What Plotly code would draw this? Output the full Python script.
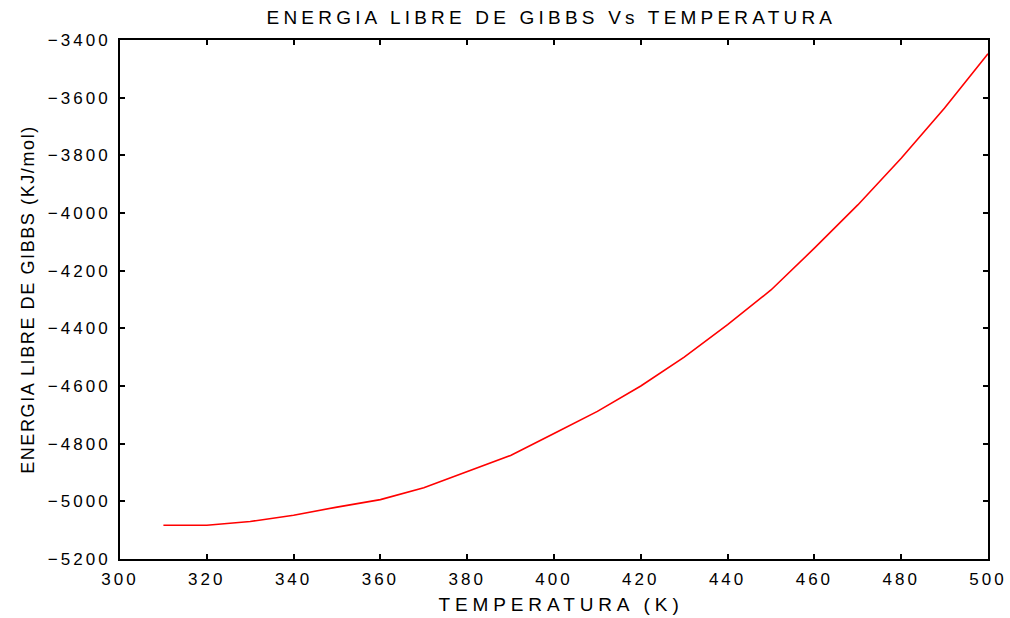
import plotly.graph_objects as go

temperatura = [310, 320, 330, 340, 350, 360, 370, 380, 390, 400,
               410, 420, 430, 440, 450, 460, 470, 480, 490, 500]
energia_gibbs = [-5083, -5083, -5070, -5048, -5020, -4994, -4953, -4897, -4841, -4765,
                 -4688, -4600, -4500, -4387, -4267, -4122, -3972, -3810, -3636, -3448]

x_ticks = [300, 320, 340, 360, 380, 400, 420, 440, 460, 480, 500]
y_ticks = [-5200, -5000, -4800, -4600, -4400, -4200, -4000, -3800, -3600, -3400]

FONT = "Liberation Sans, Arial, sans-serif"

fig = go.Figure()
fig.add_trace(go.Scatter(
    x=temperatura, y=energia_gibbs, mode="lines",
    line=dict(color="#ff0000", width=1.6), showlegend=False,
))

axis_common = dict(
    showgrid=False, zeroline=False, automargin=False,
    showline=True, linecolor="black", linewidth=2, mirror="ticks",
    ticks="inside", ticklen=5, tickwidth=1.5, tickcolor="black",
    tickfont=dict(family=FONT, size=17, color="black"),
)

fig.update_layout(
    width=1010, height=618,
    margin=dict(l=120, r=22, t=40, b=59),
    paper_bgcolor="white", plot_bgcolor="white",
    title=dict(text="ENERGIA LIBRE DE GIBBS Vs TEMPERATURA",
               font=dict(family=FONT, size=19, color="black"),
               xref="paper", x=0.497, xanchor="center", y=0.972, yanchor="middle"),
    xaxis=dict(range=[300, 500], tickvals=x_ticks,
               title=dict(text="TEMPERATURA (K)", font=dict(family=FONT, size=19, color="black"),
                          standoff=9),
               ticklabelstandoff=4,
               **axis_common),
    yaxis=dict(range=[-5200, -3400], tickvals=y_ticks,
               title=dict(text="ENERGIA LIBRE DE GIBBS (KJ/mol)", font=dict(family=FONT, size=18, color="black"),
                          standoff=24),
               ticklabelstandoff=4,
               **axis_common),
)

post = """
var gd = document.getElementById('{plot_id}');
gd.querySelectorAll('.xtick text, .ytick text').forEach(function(t){t.style.letterSpacing='3px';});
gd.querySelectorAll('.gtitle').forEach(function(t){t.style.letterSpacing='4.2px';});
gd.querySelectorAll('.g-xtitle text').forEach(function(t){
  t.style.letterSpacing='4.9px';
  t.setAttribute('x', parseFloat(t.getAttribute('x')) + 7);
});
gd.querySelectorAll('.g-ytitle text').forEach(function(t){t.style.letterSpacing='1.6px';});
"""

fig.write_html("out.html", post_script=post)
